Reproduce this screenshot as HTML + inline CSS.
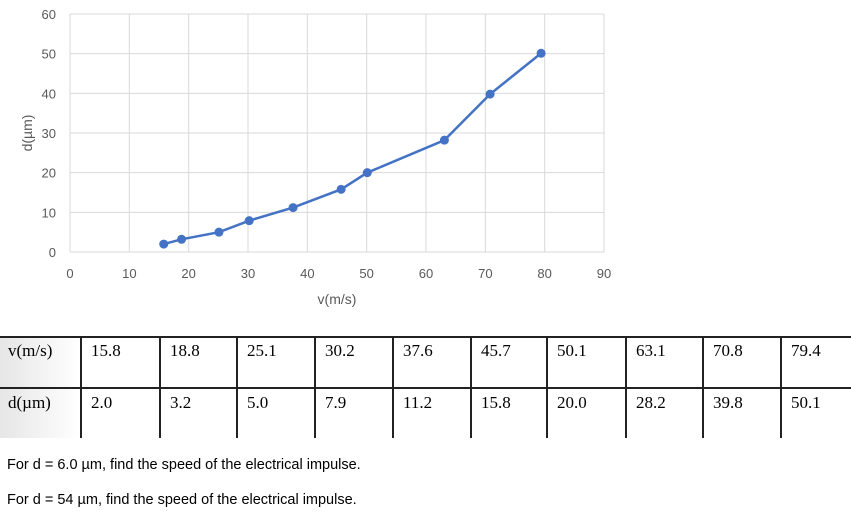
<!DOCTYPE html>
<html><head><meta charset="utf-8"><style>
body{margin:0;width:851px;height:522px;background:#fff;position:relative;overflow:hidden;font-family:"Liberation Sans",sans-serif}
.t{position:absolute;font-family:"Liberation Serif",serif;font-size:17px;color:#000}
.q{position:absolute;left:7px;font-family:"Liberation Sans",sans-serif;font-size:14.5px;color:#000}
</style></head><body>
<svg width="851" height="320" style="position:absolute;left:0;top:0" id="chart"></svg>
<div id="tbl" style="position:absolute;left:0;top:0;width:851px;height:522px"></div>
<div class="q" style="top:457px">For d = 6.0 µm, find the speed of the electrical impulse.</div>
<div class="q" style="top:492px">For d = 54 µm, find the speed of the electrical impulse.</div>
<script>
const vVals=[15.8,18.8,25.1,30.2,37.6,45.7,50.1,63.1,70.8,79.4];
const dVals=[2.0,3.2,5.0,7.9,11.2,15.8,20.0,28.2,39.8,50.1];
const xTicks=[0,10,20,30,40,50,60,70,80,90];
const yTicks=[0,10,20,30,40,50,60];
const vLabels=["15.8","18.8","25.1","30.2","37.6","45.7","50.1","63.1","70.8","79.4"];
const dLabels=["2.0","3.2","5.0","7.9","11.2","15.8","20.0","28.2","39.8","50.1"];
const NS="http://www.w3.org/2000/svg";
const svg=document.getElementById('chart');
const X=v=>70+v*(604-70)/90, Y=d=>252-d*(252-14)/60;
function mk(t,a){const e=document.createElementNS(NS,t);for(const k in a)e.setAttribute(k,a[k]);svg.appendChild(e);return e;}
xTicks.forEach(t=>{const l=mk('line',{x1:X(t),x2:X(t),y1:14,y2:252,stroke:'#d9d9d9','stroke-width':1});


const tx=mk('text',{x:X(t),y:278,'text-anchor':'middle','font-size':13,fill:'#595959','font-family':'Liberation Sans'});tx.textContent=t;

});
yTicks.forEach(t=>{const l=mk('line',{x1:70,x2:604,y1:Y(t),y2:Y(t),stroke:'#d9d9d9','stroke-width':1});


const tx=mk('text',{x:56,y:Y(t)+5,'text-anchor':'end','font-size':13,fill:'#595959','font-family':'Liberation Sans'});tx.textContent=t;

});
const xt=mk('text',{x:337,y:304,'text-anchor':'middle','font-size':14,fill:'#595959','font-family':'Liberation Sans'});xt.textContent='v(m/s)';


const yt=mk('text',{x:0,y:0,transform:'translate(32,133) rotate(-90)','text-anchor':'middle','font-size':14,fill:'#595959','font-family':'Liberation Sans'});yt.textContent='d(µm)';


const pl=mk('polyline',{points:vVals.map((v,i)=>X(v)+','+Y(dVals[i])).join(' '),fill:'none',stroke:'#4472c4','stroke-width':2.5});


vVals.forEach((v,i)=>{const c=mk('circle',{cx:X(v),cy:Y(dVals[i]),r:4.5,fill:'#4472c4'});

});
// table
const tb=document.getElementById('tbl');
let h='<div style="position:absolute;left:0;top:336px;width:80px;height:102px;background:linear-gradient(90deg,#e6e6e6,#fff)"></div>';
h+='<div style="position:absolute;left:0;top:336px;width:851px;height:2px;background:#222"></div>';
h+='<div style="position:absolute;left:0;top:387px;width:851px;height:2px;background:#222"></div>';
const cols=[80,159,236,314,392,470,546,625,702,780];
cols.forEach(x=>{h+='<div style="position:absolute;left:'+x+'px;top:336px;width:1.5px;height:102px;background:#222"></div>';});
h+='<div class="t" style="left:8px;top:341px">v(m/s)</div>';
h+='<div class="t" style="left:8px;top:393px">d(µm)</div>';
cols.forEach((x,i)=>{h+='<div class="t" style="left:'+(x+11)+'px;top:341px">'+vLabels[i]+'</div>';
h+='<div class="t" style="left:'+(x+11)+'px;top:393px">'+dLabels[i]+'</div>';});
tb.innerHTML=h;
</script>
</body></html>
